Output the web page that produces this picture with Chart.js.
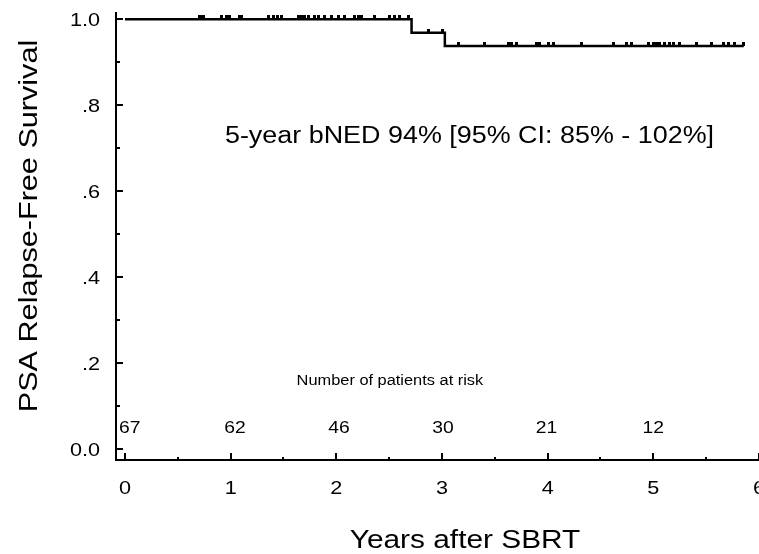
<!DOCTYPE html>
<html>
<head>
<meta charset="utf-8">
<script src="https://cdn.jsdelivr.net/npm/chart.js@4.4.1/dist/chart.umd.min.js"></script>
<style>
  html, body { margin: 0; padding: 0; background: #ffffff; overflow: hidden; }
  #wrap { width: 759px; height: 554px; }
</style>
</head>
<body>
<div id="wrap"><canvas id="c" width="759" height="554"></canvas></div>
<script>
// ---------- data ----------
const xTickValues = [0, 1, 2, 3, 4, 5, 6];
const xTickLabels = ['0', '1', '2', '3', '4', '5', '6'];
const xMinorTicks = [0.5, 1.5, 2.5, 3.5, 4.5, 5.5];
const yTickValues = [0, 0.2, 0.4, 0.6, 0.8, 1.0];
const yTickLabels = ['0.0', '.2', '.4', '.6', '.8', '1.0'];
const yMinorTicks = [0.1, 0.3, 0.5, 0.7, 0.9];

// Kaplan-Meier steps (years, survival)
const eventTimes = [0, 2.712, 3.027, 5.856];
const survival = [1.0, 0.969, 0.938, 0.938];

// censored observations (years)
const censorTimes = [
  0.703, 0.726, 0.747, 0.915, 0.962, 0.993, 1.088, 1.105, 1.356, 1.403,
  1.441, 1.483, 1.640, 1.672, 1.703, 1.734, 1.798, 1.829, 1.892, 1.956,
  2.018, 2.081, 2.176, 2.207, 2.239, 2.365, 2.507, 2.554, 2.602, 2.680,
  2.870, 3.005,
  3.153, 3.406, 3.626, 3.658, 3.705, 3.895, 3.926, 4.005, 4.052, 4.321,
  4.620, 4.747, 4.794, 4.951, 4.998, 5.030, 5.061, 5.109, 5.156, 5.187,
  5.251, 5.409, 5.551, 5.660, 5.708, 5.771, 5.850
];

// number at risk
const riskTimes = [0.045, 1.04, 2.025, 3.01, 3.99, 5.0];
const riskCounts = ['67', '62', '46', '30', '21', '12'];

const annotationText = '5-year bNED 94% [95% CI: 85% - 102%]';
const riskTitle = 'Number of patients at risk';
const xTitle = 'Years after SBRT';
const yTitle = 'PSA Relapse-Free Survival';

// ---------- helpers ----------
function survAt(t) {
  let s = survival[0];
  for (let i = 0; i < eventTimes.length; i++) {
    if (eventTimes[i] <= t) s = survival[i];
  }
  return s;
}

// censor mark: small bump above the line
const censorMark = document.createElement('canvas');
censorMark.width = 3; censorMark.height = 8;
(function () {
  const g = censorMark.getContext('2d');
  g.fillStyle = '#000';
  g.fillRect(0, 0, 3, 4);
})();

const FONT = '"Liberation Sans", Arial, Helvetica, sans-serif';
function txt(ctx, s, x, y, size, align, sx, rot) {
  ctx.save();
  ctx.translate(x, y);
  if (rot) ctx.rotate(rot);
  ctx.scale(sx, 1);
  ctx.font = size + 'px ' + FONT;
  ctx.textAlign = align;
  ctx.textBaseline = 'alphabetic';
  ctx.fillStyle = '#000';
  ctx.fillText(s, 0, 0);
  ctx.restore();
}

const axesPlugin = {
  id: 'kmAxes',
  afterDraw(chart) {
    const ctx = chart.ctx;
    const xs = chart.scales.x, ys = chart.scales.y;
    const ca = chart.chartArea;
    ctx.save();
    ctx.strokeStyle = '#000';
    ctx.lineWidth = 2;
    ctx.lineCap = 'butt';
    // axis lines
    ctx.beginPath();
    ctx.moveTo(ca.left, ca.top);
    ctx.lineTo(ca.left, ca.bottom + 1);
    ctx.moveTo(ca.left - 1, ca.bottom);
    ctx.lineTo(ca.right, ca.bottom);
    ctx.stroke();
    // x ticks (inward)
    ctx.beginPath();
    xTickValues.forEach(v => {
      const px = Math.round(xs.getPixelForValue(v));
      ctx.moveTo(px, ca.bottom);
      ctx.lineTo(px, ca.bottom - 7);
    });
    xMinorTicks.forEach(v => {
      const px = Math.round(xs.getPixelForValue(v));
      ctx.moveTo(px, ca.bottom);
      ctx.lineTo(px, ca.bottom - 3);
    });
    // y ticks (inward)
    yTickValues.forEach(v => {
      const py = Math.round(ys.getPixelForValue(v));
      ctx.moveTo(ca.left, py);
      ctx.lineTo(ca.left + 7, py);
    });
    yMinorTicks.forEach(v => {
      const py = Math.round(ys.getPixelForValue(v));
      ctx.moveTo(ca.left, py);
      ctx.lineTo(ca.left + 4, py);
    });
    ctx.stroke();
    ctx.restore();

    const SX = 1.17;
    // y tick labels
    yTickValues.forEach((v, i) => {
      txt(ctx, yTickLabels[i], ca.left - 16, ys.getPixelForValue(v) + 6.5, 18.5, 'right', SX);
    });
    // x tick labels
    xTickValues.forEach((v, i) => {
      txt(ctx, xTickLabels[i], xs.getPixelForValue(v), ca.bottom + 34, 18.5, 'center', SX);
    });
    // numbers at risk
    riskTimes.forEach((t, i) => {
      txt(ctx, riskCounts[i], xs.getPixelForValue(t), ys.getPixelForValue(0.037), 16.5, 'center', SX);
    });
    txt(ctx, riskTitle, xs.getPixelForValue(2.507), ys.getPixelForValue(0.149), 14, 'center', SX);
    // annotation
    txt(ctx, annotationText, xs.getPixelForValue(0.946), ys.getPixelForValue(0.712), 23, 'left', SX);
    // axis titles
    txt(ctx, xTitle, xs.getPixelForValue(3.218), ca.bottom + 88, 25.5, 'center', SX);
    txt(ctx, yTitle, 36.5, (ca.top + ca.bottom) / 2 - 10, 25.5, 'center', 1.2, -Math.PI / 2);
  }
};

new Chart(document.getElementById('c'), {
  data: {
    datasets: [
      {
        type: 'line',
        data: eventTimes.map((t, i) => ({ x: t, y: survival[i] })),
        stepped: 'before',
        borderColor: '#000',
        borderWidth: 2.5,
        pointRadius: 0,
        fill: false,
        tension: 0
      },
      {
        type: 'scatter',
        data: censorTimes.map(t => ({ x: t, y: survAt(t) })),
        pointStyle: censorMark,
        pointRadius: 2,
        borderColor: '#000',
        backgroundColor: '#000',
        showLine: false
      }
    ]
  },
  options: {
    responsive: false,
    devicePixelRatio: 1,
    animation: false,
    events: [],
    layout: { autoPadding: false, padding: { left: 116, top: 12, right: 0, bottom: 94 } },
    plugins: { legend: { display: false }, tooltip: { enabled: false } },
    scales: {
      x: { type: 'linear', min: -0.085, max: 6, display: false },
      y: { type: 'linear', min: -0.025, max: 1.017, display: false }
    }
  },
  plugins: [axesPlugin]
});
</script>
</body>
</html>
